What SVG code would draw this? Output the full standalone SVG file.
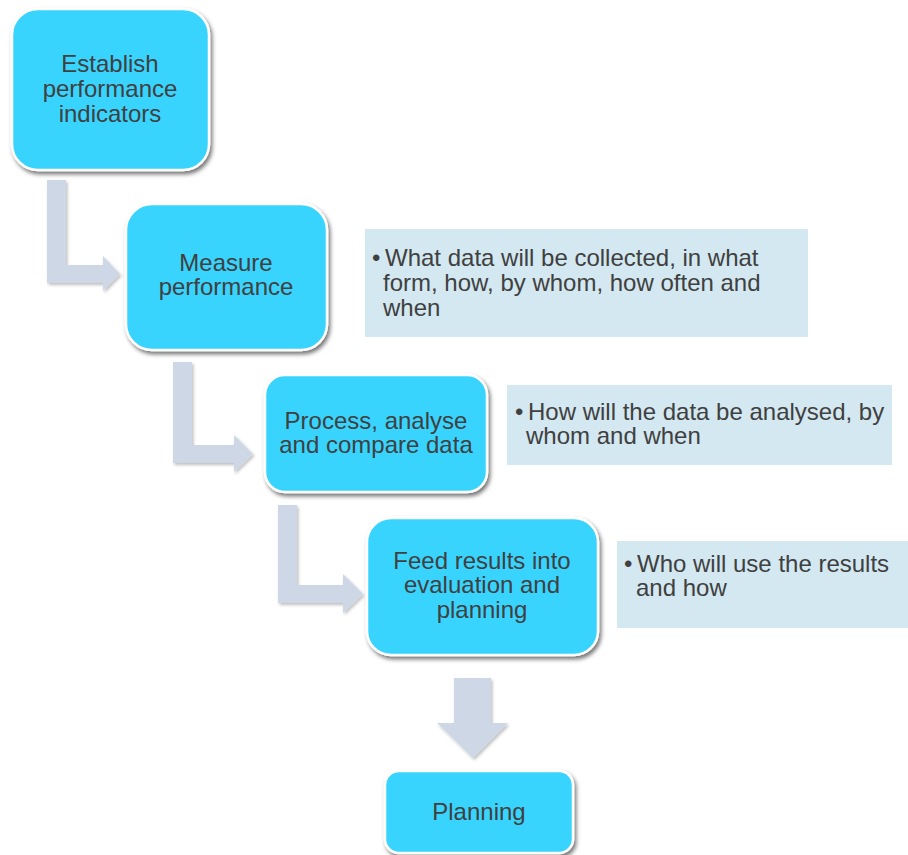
<svg xmlns="http://www.w3.org/2000/svg" width="908" height="855" viewBox="0 0 908 855">
<defs>
<filter id="sh" x="-10%" y="-10%" width="125%" height="130%">
<feDropShadow dx="2" dy="3" stdDeviation="2.2" flood-color="#000" flood-opacity="0.55"/>
</filter>
<filter id="ash" x="-20%" y="-20%" width="150%" height="150%">
<feDropShadow dx="1.5" dy="2" stdDeviation="1.5" flood-color="#000" flood-opacity="0.25"/>
</filter>
</defs>
<style>
.box{fill:#38d4fe;stroke:#ffffff;stroke-width:2.5;filter:url(#sh)}
.note{fill:#d3e8f1}
.arr{fill:#cdd7e5;filter:url(#ash)}
.t{font-family:"Liberation Sans",Arial,sans-serif;font-size:24px;fill:#404040;text-anchor:middle}
.n{font-family:"Liberation Sans",Arial,sans-serif;font-size:24px;fill:#404040}
</style>
<rect width="908" height="855" fill="#ffffff"/>
<g id="connectors">
<path class="arr" d="M47,180 H66 V265 H103 V256 L120,274 L103,291 V283 H47 Z"/>
<path class="arr" d="M173,362 H192 V445 H234 V435 L253,454 L234,472 V463 H173 Z"/>
<path class="arr" d="M278,505 H297 V585 H343 V574 L363,594 L343,613 V603 H278 Z"/>
<path class="arr" d="M454,678 H491 V723 H508 L473,758 L437,723 H454 Z"/>
</g>
<g id="node1">
<rect class="box" x="12" y="9" width="197" height="161" rx="26"/>
<text class="t" x="110" y="72">Establish</text>
<text class="t" x="110" y="97">performance</text>
<text class="t" x="110" y="122">indicators</text>
</g>
<g id="node2">
<rect class="box" x="126" y="204" width="201" height="146" rx="26"/>
<text class="t" x="226" y="271">Measure</text>
<text class="t" x="226" y="295">performance</text>
</g>
<g id="node3">
<rect class="box" x="265" y="375" width="222" height="117" rx="20"/>
<text class="t" x="376" y="429">Process, analyse</text>
<text class="t" x="376" y="453">and compare data</text>
</g>
<g id="node4">
<rect class="box" x="367" y="518" width="231" height="137" rx="24"/>
<text class="t" x="482" y="569">Feed results into</text>
<text class="t" x="482" y="593">evaluation and</text>
<text class="t" x="482" y="618">planning</text>
</g>
<g id="node5">
<rect class="box" x="385" y="771" width="188" height="82" rx="14"/>
<text class="t" x="479" y="820">Planning</text>
</g>
<g id="note1">
<rect class="note" x="365" y="229" width="443" height="108"/>
<text class="n" x="372" y="266">•</text>
<text class="n" x="385" y="266">What data will be collected, in what</text>
<text class="n" x="383" y="291">form, how, by whom, how often and</text>
<text class="n" x="383" y="316">when</text>
</g>
<g id="note2">
<rect class="note" x="507" y="385" width="385" height="80"/>
<text class="n" x="515" y="420">•</text>
<text class="n" x="528" y="420">How will the data be analysed, by</text>
<text class="n" x="526" y="444">whom and when</text>
</g>
<g id="note3">
<rect class="note" x="617" y="541" width="291" height="87"/>
<text class="n" x="624" y="572">•</text>
<text class="n" x="637" y="572">Who will use the results</text>
<text class="n" x="636" y="596">and how</text>
</g>
</svg>
